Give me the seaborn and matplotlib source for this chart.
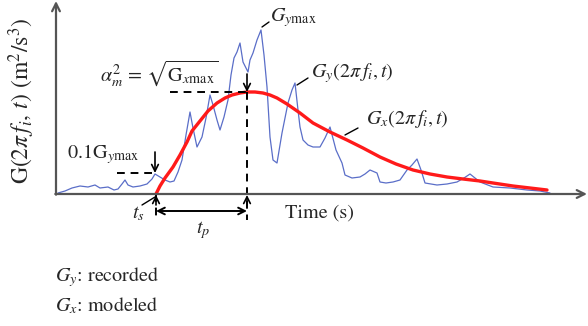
import matplotlib
matplotlib.use("Agg")
import matplotlib.pyplot as plt
import seaborn as sns
import numpy as np
import pandas as pd

# ---- data (time in s, G in arbitrary units) ----
rec_px = [58, 65, 72, 80, 88, 95, 100, 108, 114, 118, 122, 125, 128, 133, 140, 147, 152, 155,
          160, 165, 170, 174, 178, 182, 186, 190, 193, 197, 202, 206, 210, 213, 217, 220, 224,
          228, 231, 234, 237, 240, 243, 248, 250, 253, 257, 261, 264, 267, 270, 273, 277, 282,
          288, 292, 295, 298, 300, 303, 308, 313, 320, 325, 330, 336, 342, 345, 352, 360, 365,
          370, 377, 380, 386, 393, 400, 407, 412, 417, 421, 425, 437, 447, 457, 464, 470, 475,
          480, 493, 510, 527, 540, 550]
rec_py = [193, 191, 188, 186, 187, 185, 188, 187, 190, 189, 184, 180, 185, 187, 186, 184, 179, 174,
          177, 180, 182, 181, 172, 160, 135, 112, 128, 147, 137, 118, 95, 105, 120, 130, 117,
          100, 75, 58, 52, 43, 62, 72, 60, 53, 40, 30, 55, 87, 137, 160, 163, 133,
          103, 90, 83, 110, 127, 140, 145, 147, 147, 138, 127, 150, 163, 175, 178, 177, 174,
          170, 173, 182, 183, 182, 180, 170, 165, 159, 170, 183, 185, 184, 182, 178, 174, 178,
          182, 187, 188, 190, 191, 193]
mod_px = [156, 160, 165, 173, 180, 187, 192, 200, 208, 217, 225, 232, 240, 247, 255, 263, 270,
          277, 287, 300, 313, 330, 347, 363, 380, 396, 413, 430, 447, 463, 480, 493, 513, 530, 547]
mod_py = [194, 186, 178, 167, 155, 142, 131, 121, 111, 103, 98, 95, 93, 92, 92, 93, 95,
          98, 104, 113, 123, 132, 140, 148, 157, 164, 170, 174, 177, 179, 181, 183, 186, 188, 190]

X0, Y0, SX = 56, 194, 10.0
def tx(px): return (np.asarray(px, float) - X0) / SX
def gy(py): return Y0 - np.asarray(py, float)

recorded = pd.DataFrame({"t": tx(rec_px), "G": gy(rec_py)})
modeled = pd.DataFrame({"t": tx(mod_px), "G": gy(mod_py)})

t_s = tx(156)
t_peak = tx(247)
G_xmax = gy(92)
G_01 = gy(173)

sns.set_theme(style="white")
plt.rcParams["font.family"] = ["STIXGeneral", "DejaVu Serif"]
plt.rcParams["mathtext.fontset"] = "stix"

fig = plt.figure(figsize=(5.88, 3.26), dpi=100)
ax = fig.add_axes([0, 0, 1, 1])
ax.set_xlim(tx(0), tx(588))
ax.set_ylim(gy(326), gy(0))
ax.axis("off")

sns.lineplot(data=recorded, x="t", y="G", ax=ax, color="#5a6ec8", lw=0.9, sort=False)
sns.lineplot(data=modeled, x="t", y="G", ax=ax, color="#ff1a1a", lw=2.4, sort=False)

axc = "#555555"
# axes with arrow heads
ax.annotate("", xy=(tx(56), gy(1)), xytext=(tx(56), gy(194.7)),
            arrowprops=dict(arrowstyle="->", color=axc, lw=1.6, shrinkA=0, shrinkB=0,
                            mutation_scale=14))
ax.annotate("", xy=(tx(587), gy(194)), xytext=(tx(55.3), gy(194)),
            arrowprops=dict(arrowstyle="->", color=axc, lw=1.6, shrinkA=0, shrinkB=0,
                            mutation_scale=14))

dash = dict(color="black", lw=1.4, ls=(0, (4, 3)))
ax.plot([tx(170), t_peak], [G_xmax, G_xmax], **dash)
ax.plot([t_peak, t_peak], [G_xmax, gy(220)], **dash)
ax.plot([tx(117), tx(155)], [G_01, G_01], **dash)
ax.plot([t_s, t_s], [gy(194), gy(220)], **dash)

arr = dict(arrowstyle="->", color="black", lw=1.2, shrinkA=0, shrinkB=0, mutation_scale=12)
ax.annotate("", xy=(t_peak, G_xmax), xytext=(t_peak, gy(74)), arrowprops=arr)
ax.annotate("", xy=(tx(155), G_01), xytext=(tx(155), gy(152)), arrowprops=arr)
ax.annotate("", xy=(t_s, gy(195)), xytext=(t_s, gy(205)), arrowprops=arr)
ax.annotate("", xy=(t_peak, gy(195)), xytext=(t_peak, gy(205)), arrowprops=arr)
ax.annotate("", xy=(t_s, gy(211)), xytext=(t_peak, gy(211)),
            arrowprops=dict(arrowstyle="<->", color="black", lw=1.4, shrinkA=0, shrinkB=0,
                            mutation_scale=12))

# leader lines
for (x1, y1, x2, y2) in [(262, 27, 269, 22), (297, 85, 308, 78), (345, 135, 358, 128),
                         (142, 205, 155, 197)]:
    ax.plot([tx(x1), tx(x2)], [gy(y1), gy(y2)], color="black", lw=1.0)

fs = 14.5
ax.text(tx(270), gy(18), r"$G_{y\mathrm{max}}$", fontsize=fs, ha="left", va="center")
ax.text(tx(100), gy(74), r"$\alpha_m^2\,=\,\sqrt{\mathrm{G}_{x\mathrm{max}}}$", fontsize=fs,
        ha="left", va="center")
ax.text(tx(67), gy(154), r"$0.1\mathrm{G}_{y\mathrm{max}}$", fontsize=fs, ha="left", va="center")
ax.text(tx(311), gy(73), r"$G_y(2\pi\, f_i, t)$", fontsize=fs, ha="left", va="center")
ax.text(tx(366), gy(119), r"$G_x(2\pi\, f_i, t)$", fontsize=fs, ha="left", va="center")
ax.text(tx(138), gy(214), r"$t_s$", fontsize=fs, ha="center", va="center")
ax.text(tx(203), gy(230), r"$t_p$", fontsize=fs, ha="center", va="center")
ax.text(tx(320), gy(213), "Time (s)", fontsize=fs, ha="center", va="center")
ax.text(tx(22), gy(101), r"G$(2\pi\, f_i,\, t)$ (m$^2$/s$^3$)", fontsize=17, rotation=90,
        ha="center", va="center")
ax.text(tx(55), gy(277), r"$G_y$: recorded", fontsize=fs, ha="left", va="center")
ax.text(tx(55), gy(306), r"$G_x$: modeled", fontsize=fs, ha="left", va="center")

fig.savefig("out.png", dpi=100)
